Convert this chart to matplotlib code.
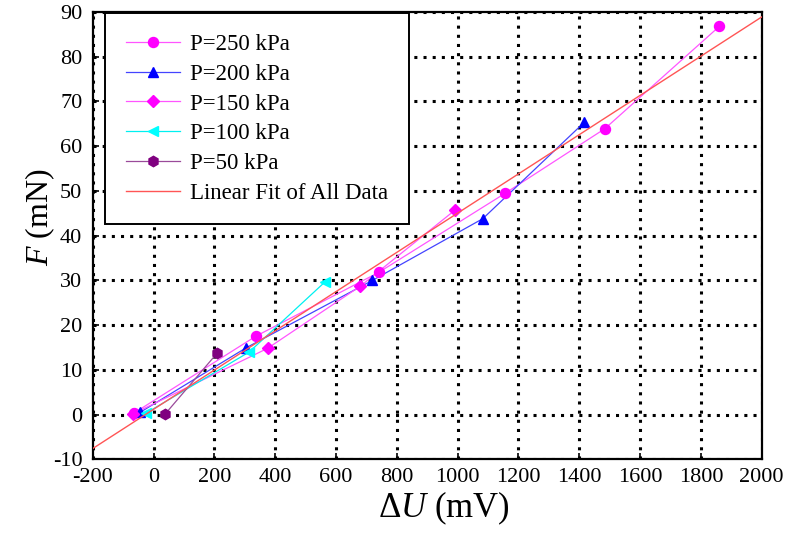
import matplotlib
matplotlib.use("Agg")
import matplotlib.pyplot as plt
import numpy as np

# values
p250_x = [-65, 336, 741, 1157, 1484, 1861]
p250_y = [0.3, 17.5, 31.8, 49.5, 63.9, 86.8]
p200_x = [-44, 304, 720, 1083, 1416]
p200_y = [0.5, 14.9, 30.0, 43.8, 65.3]
p150_x = [-66, 375, 680, 993]
p150_y = [0.2, 14.8, 28.7, 45.8]
p100_x = [-25, 315, 563]
p100_y = [0.3, 14.0, 29.6]
p50_x = [38, 210]
p50_y = [0.1, 13.8]

fit_slope = 0.04386
fit_intercept = 1.17

x_ticks = list(range(-200, 2001, 200))
y_ticks = list(range(-10, 91, 10))

plt.rcParams["font.family"] = ["Liberation Serif", "DejaVu Serif"]
plt.rcParams["mathtext.fontset"] = "custom"
plt.rcParams["mathtext.rm"] = "Liberation Serif"
plt.rcParams["mathtext.it"] = "Liberation Serif:italic"
plt.rcParams["axes.unicode_minus"] = False

fig = plt.figure(figsize=(7.89, 5.33), dpi=100)
ax = fig.add_axes([0.1175, 0.1383, 0.8479, 0.8392])

series = [
    (p250_x, p250_y, "o", "#FF00FF", "#FF55FF", 7.2, "P=250 kPa"),
    (p200_x, p200_y, "^", "#0000FF", "#4444FF", 7.5, "P=200 kPa"),
    (p150_x, p150_y, "D", "#FF00FF", "#FF55FF", 6.5, "P=150 kPa"),
    (p100_x, p100_y, "<", "#00FFFF", "#00F0F0", 7.5, "P=100 kPa"),
    (p50_x, p50_y, "h", "#800080", "#9A4A9A", 7.5, "P=50 kPa"),
]

handles = []
for xs, ys, mk, mc, lc, ms, lab in series:
    ax.plot(xs, ys, color=lc, lw=0.9, zorder=3)
    ax.plot(xs, ys, ls="none", marker=mk, ms=ms, mfc=mc, mec=mc, zorder=4)
    h, = ax.plot([], [], color=lc, lw=0.9, marker=mk, ms=ms, mfc=mc, mec=mc,
                 label=lab)
    handles.append(h)

fx = np.array([-200, 2000])
fit, = ax.plot(fx, fit_slope * fx + fit_intercept, color="#FF5555", lw=1.0,
               zorder=5, label="Linear Fit of All Data")
handles.append(fit)

ax.set_xlim(-200, 2000)
ax.set_ylim(-10, 90)
ax.set_xticks(x_ticks)
ax.set_yticks(y_ticks)
ax.tick_params(axis="both", direction="in", length=4, width=1.2,
               labelsize=16, colors="black")
ax.tick_params(axis="x", pad=6.5)
ax.tick_params(axis="y", pad=7.5)

ax.grid(True, color="black", linestyle=(0, (1, 2)), linewidth=2.2)
ax.set_axisbelow(True)
for sp in ax.spines.values():
    sp.set_linewidth(1.6)

leg = ax.legend(handles=handles, loc="upper left",
                bbox_to_anchor=(0.0184, 0.997), borderaxespad=0,
                fontsize=16.5, frameon=True, fancybox=False,
                edgecolor="black", framealpha=1, handlelength=2.36,
                handletextpad=0.45, labelspacing=0.38, borderpad=0.9,
                numpoints=1)
leg.get_frame().set_linewidth(1.4)
leg.set_zorder(10)

fig.text(444 / 789, 1 - 508 / 533, r"$\Delta$$U$ (mV)", fontsize=25,
         ha="center", va="center")
fig.text(40 / 789, 1 - 217 / 533, r"$F$ (mN)", fontsize=23,
         ha="center", va="center", rotation=90)

fig.savefig("out.png", dpi=100, facecolor="white")
